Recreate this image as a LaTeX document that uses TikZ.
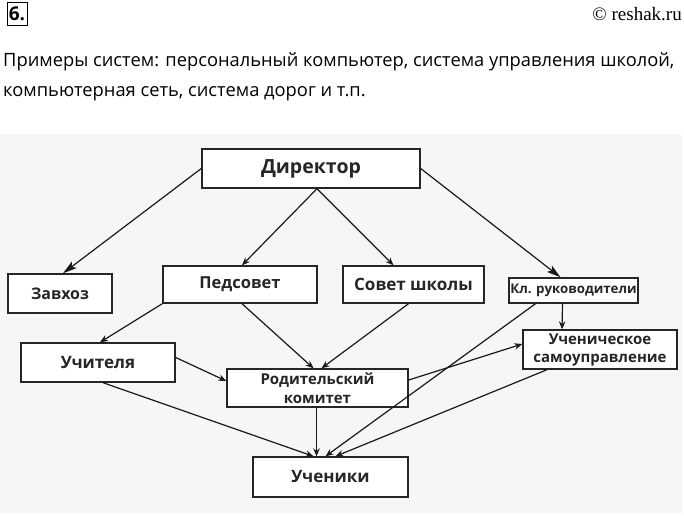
\documentclass[tikz,border=0pt]{standalone}
\usepackage{fontspec}
\setmainfont{Liberation Serif}
\newfontfamily\diagfont{Open Sans}
\newfontfamily\parafont{Open Sans}
\usetikzlibrary{arrows.meta,calc}
\definecolor{bgc}{HTML}{F5F6F5}
\begin{document}
\begin{tikzpicture}[x=1pt,y=-1pt,
  box/.style={draw=black!85,line width=1.4pt,fill=white,inner sep=0pt,align=center,
    font=\diagfont\bfseries,text=black!85},
  con/.style={line width=1.2pt,draw=black!90},
  sarr/.style={con,-{Stealth[length=8pt,width=6.5pt]}},
  barr/.style={con,-{Stealth[length=14pt,width=8pt,inset=3pt]}}]
\useasboundingbox (0,0) rectangle (684,515);
\fill[bgc] (0,134) rectangle (682,513);
% header
\node[draw,line width=1pt,minimum width=20pt,minimum height=23pt,inner sep=0pt,
  font=\parafont\bfseries\fontsize{19}{19}\selectfont] (num) at (17,13.5) {6.};
\node[anchor=east,inner sep=0pt,font=\fontsize{19}{19}\selectfont] (cr) at (682,14) {© reshak.ru};
\node[anchor=base west,inner sep=0pt,font=\parafont\fontsize{18.3}{18.3}\selectfont] (l1) at (3,66.7)
  {Примеры систем: персональный компьютер, система управления школой,};
\node[anchor=base west,inner sep=0pt,font=\parafont\fontsize{18.3}{18.3}\selectfont] (l2) at (3,96)
  {компьютерная сеть, система дорог и т.п.};
% boxes
\node[box,minimum width=218pt,minimum height=39pt,font=\diagfont\bfseries\fontsize{19.5}{19.5}\selectfont] (dir) at (311,168.5) {Директор};
\node[box,minimum width=104pt,minimum height=39pt,font=\diagfont\bfseries\fontsize{16}{16}\selectfont] (zav) at (60,293.5) {Завхоз};
\node[box,minimum width=154pt,minimum height=37pt,font=\diagfont\bfseries\fontsize{16.5}{16.5}\selectfont] (ped) at (240,284.5) {Педсовет};
\node[box,minimum width=141pt,minimum height=37pt,font=\diagfont\bfseries\fontsize{17}{17}\selectfont] (sov) at (413.5,284.5) {Совет школы};
\node[box,minimum width=129pt,minimum height=25pt,font=\diagfont\bfseries\fontsize{13.3}{13.3}\selectfont] (kl) at (573.5,290.5) {Кл. руководители};
\node[box,minimum width=154pt,minimum height=39pt,font=\diagfont\bfseries\fontsize{17}{17}\selectfont] (uch) at (98,362.5) {Учителя};
\node[box,minimum width=181pt,minimum height=38pt,font=\diagfont\bfseries\fontsize{15}{19}\selectfont] (rod) at (317.5,388) {Родительский\\комитет};
\node[box,minimum width=154pt,minimum height=39pt,font=\diagfont\bfseries\fontsize{15}{18}\selectfont] (sam) at (600,349.5) {Ученическое\\самоуправление};
\node[box,minimum width=155pt,minimum height=40pt,font=\diagfont\bfseries\fontsize{17}{17}\selectfont] (stu) at (330.5,477) {Ученики};
% connectors
\draw[barr] (dir.west) -- ($(zav.north)+(3,0)$);
\draw[sarr] ($(dir.south)+(6,0)$) -- ($(ped.north)+(2,0)$);
\draw[sarr] ($(dir.south)+(6,0)$) -- ($(sov.north)+(-20,0)$);
\draw[barr] (dir.east) -- ($(kl.north)+(-13,0)$);
\draw[sarr] (ped.south west) -- ($(uch.north)+(2,0)$);
\draw[sarr] ($(ped.south)+(2,0)$) -- ($(rod.north)+(-4,0)$);
\draw[sarr] ($(sov.south)+(-5,0)$) -- ($(rod.north)+(4,0)$);
\draw[sarr] ($(kl.south)+(-11,0)$) -- ($(sam.north)+(-38,0)$);
\draw[sarr] ($(kl.south)+(-38,0)$) -- ($(stu.north)+(-5,0)$);
\draw[sarr] ($(uch.east)+(0,-5)$) -- ($(rod.west)+(0,-7)$);
\draw[sarr] ($(rod.east)+(0,-8)$) -- ($(sam.west)+(0,-5.5)$);
\draw[sarr] ($(uch.south)+(5,0)$) -- ($(stu.north)+(-17,0)$);
\draw[sarr] (rod.south -| {$(stu.north)+(-14,0)$}) -- ($(stu.north)+(-14,0)$);
\draw[sarr] ($(sam.south)+(-53,0)$) -- ($(stu.north)+(5,0)$);
\end{tikzpicture}
\end{document}
